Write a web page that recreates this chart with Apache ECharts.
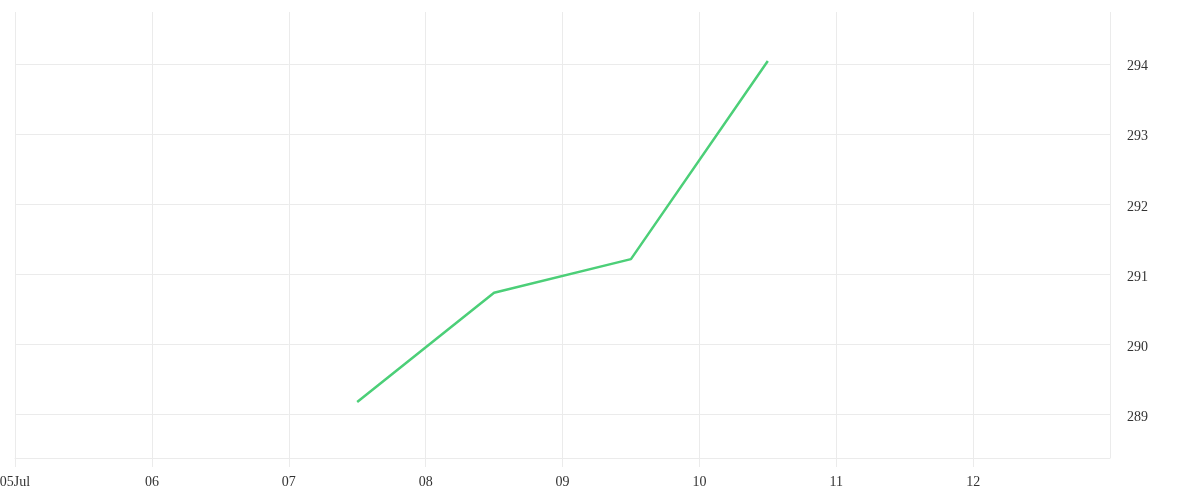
<!DOCTYPE html>
<html>
<head>
<meta charset="utf-8">
<script src="https://cdn.jsdelivr.net/npm/echarts@6/dist/echarts.min.js"></script>
<style>
html,body{margin:0;padding:0;background:#fff;}
#chart{width:1200px;height:500px;}
</style>
</head>
<body>
<div id="chart"></div>
<script>
// Data
const dates = ['2024-07-07T12:00:00', '2024-07-08T12:00:00', '2024-07-09T12:00:00', '2024-07-10T12:00:00'];
const values = [289.17, 290.73, 291.21, 294.04];
const xRange = ['2024-07-05T00:00:00', '2024-07-13T00:00:00'];
const yRange = [288.37, 294.74];

const DAY = 86400000;
const chart = echarts.init(document.getElementById('chart'));
const font = 'Liberation Serif';
chart.setOption({
  animation: false,
  grid: {left: 15, right: 90, top: 12, bottom: 42, containLabel: false, outerBoundsMode: 'none'},
  xAxis: {
    type: 'time',
    min: new Date(xRange[0]).getTime(),
    max: new Date(xRange[1]).getTime(),
    minInterval: DAY,
    maxInterval: DAY,
    axisLine: {show: true, lineStyle: {color: '#ebebeb', width: 1}},
    axisTick: {show: true, length: 9, lineStyle: {color: '#ebebeb'}},
    splitLine: {show: true, lineStyle: {color: '#ebebeb', width: 1}},
    axisLabel: {
      color: '#333',
      fontFamily: font,
      fontSize: 14,
      margin: 17,
      showMaxLabel: false,
      hideOverlap: false,
      formatter: function (v) {
        const d = new Date(v);
        const dd = String(d.getDate()).padStart(2, '0');
        return d.getDate() === 5 ? dd + 'Jul' : dd;
      }
    }
  },
  yAxis: {
    type: 'value',
    position: 'right',
    min: yRange[0],
    max: yRange[1],
    splitNumber: 6,
    axisLine: {show: false},
    axisTick: {show: false},
    splitLine: {show: true, showMaxLine: false, lineStyle: {color: '#ebebeb', width: 1}},
    axisLabel: {
      color: '#333',
      fontFamily: font,
      fontSize: 14,
      margin: 17,
      verticalAlign: 'top',
      lineHeight: 6,
      showMinLabel: false,
      showMaxLabel: false,
      formatter: function (v) { return Number.isInteger(v) ? String(v) : ''; }
    }
  },
  series: [{
    type: 'line',
    data: dates.map((d, i) => [d, values[i]]),
    showSymbol: false,
    symbol: 'none',
    lineStyle: {color: '#4ccf78', width: 2.5},
    itemStyle: {color: '#4ccf78'}
  }]
});
</script>
</body>
</html>
